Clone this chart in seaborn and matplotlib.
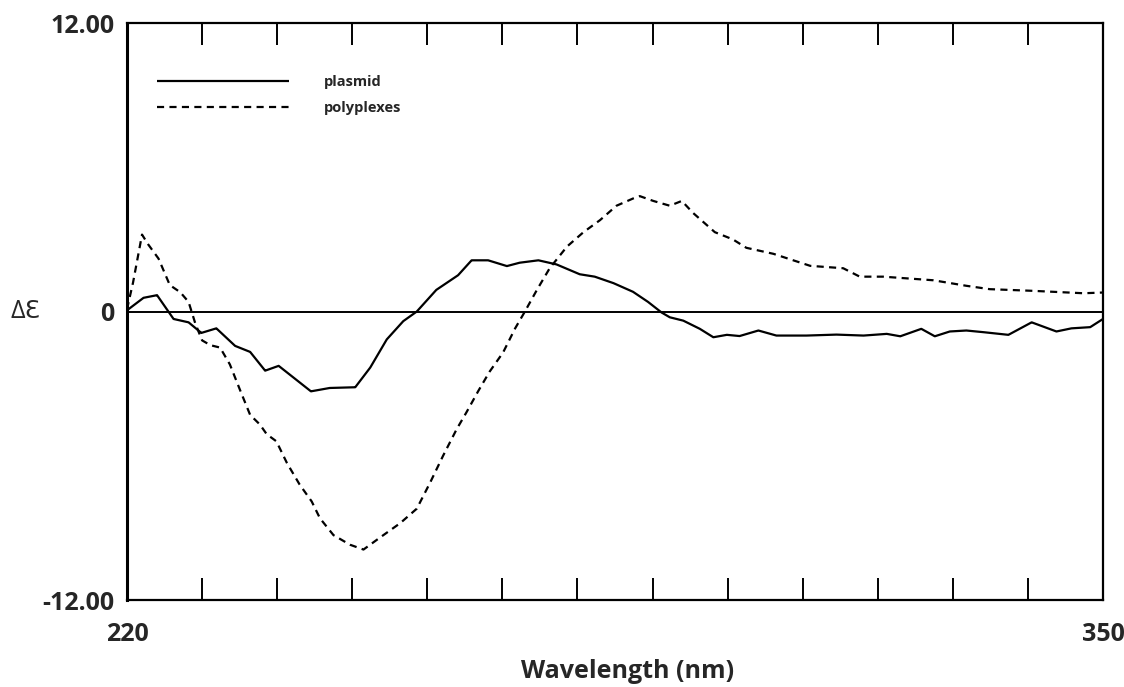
import pandas as pd
import seaborn as sns
import matplotlib.pyplot as plt
from matplotlib.ticker import MultipleLocator

# CD spectra, values
plasmid_wl = [220, 222.2, 224.0, 226.2, 228.2, 229.9, 231.9, 234.4, 236.4, 238.4,
              240.2, 244.5, 247.0, 250.4, 252.4, 254.6, 256.8, 258.6, 261.2, 264.1,
              265.9, 268.1, 270.6, 272.3, 274.8, 277.2, 280.3, 282.3, 284.8, 287.4,
              289.4, 291.2, 292.3, 294.1, 296.3, 298.1, 299.9, 301.6, 304.1, 306.5,
              310.5, 314.5, 318.1, 321.2, 323.0, 325.8, 327.6, 329.6, 331.8, 334.1,
              337.4, 340.5, 343.8, 345.8, 348.3, 350]
plasmid_de = [0.05, 0.57, 0.68, -0.31, -0.45, -0.89, -0.70, -1.43, -1.68, -2.46,
              -2.26, -3.32, -3.18, -3.15, -2.33, -1.16, -0.40, 0.0, 0.90, 1.51,
              2.13, 2.13, 1.89, 2.03, 2.13, 1.96, 1.55, 1.45, 1.18, 0.82,
              0.40, -0.04, -0.24, -0.38, -0.72, -1.07, -0.97, -1.02, -0.79, -1.00,
              -1.00, -0.96, -1.00, -0.93, -1.03, -0.72, -1.03, -0.83, -0.79, -0.86,
              -0.97, -0.45, -0.83, -0.70, -0.65, -0.31]

poly_wl = [220, 220.8, 222.0, 222.8, 224.2, 225.7, 227.1, 228.2, 229.1, 230.0,
           231.1, 232.4, 233.7, 235.1, 236.4, 237.7, 238.6, 239.9, 241.3, 243.0,
           244.6, 245.7, 247.5, 249.7, 251.5, 253.7, 256.4, 258.6, 260.4, 262.1,
           263.9, 265.2, 266.8, 268.3, 270.1, 271.7, 273.0, 274.6, 276.3, 278.6,
           280.8, 283.0, 285.2, 287.4, 288.3, 290.1, 292.3, 293.9, 295.4, 298.3,
           300.7, 302.5, 306.1, 311.0, 315.4, 317.6, 320.7, 327.4, 331.8, 334.9,
           340.7, 347.4, 350]
poly_de = [0.1, 1.2, 3.2, 2.8, 2.2, 1.1, 0.8, 0.4, -0.5, -1.2,
           -1.4, -1.5, -2.2, -3.3, -4.3, -4.7, -5.1, -5.4, -6.3, -7.2,
           -7.9, -8.6, -9.3, -9.7, -9.9, -9.4, -8.8, -8.2, -7.1, -6.0,
           -4.9, -4.2, -3.3, -2.5, -1.7, -0.7, 0.0, 0.9, 1.8, 2.7,
           3.3, 3.8, 4.4, 4.7, 4.8, 4.6, 4.4, 4.6, 4.1, 3.3,
           3.0, 2.65, 2.4, 1.9, 1.8, 1.45, 1.45, 1.3, 1.07, 0.93,
           0.86, 0.76, 0.79]

labels = ['plasmid', 'polyplexes']

df = pd.concat([
    pd.DataFrame({'wl': plasmid_wl, 'de': plasmid_de, 'sample': labels[0]}),
    pd.DataFrame({'wl': poly_wl, 'de': poly_de, 'sample': labels[1]}),
])

sns.set_style('white')
plt.rcParams['font.family'] = ['Open Sans', 'DejaVu Sans']

fig = plt.figure(figsize=(11.24, 6.87), dpi=100)
ax = fig.add_axes([0.113, 0.1266, 0.8683, 0.8399])

sns.lineplot(data=df, x='wl', y='de', hue='sample', style='sample',
             palette=['black', 'black'], dashes=[(1, 0), (3.2, 2.4)],
             linewidth=1.6, estimator=None, ax=ax)

ax.axhline(0, color='black', lw=1.4, zorder=1)

ax.set_xlim(220, 350)
ax.set_ylim(-12, 12)
for s in ax.spines.values():
    s.set_color('black')
    s.set_linewidth(1.6)
ax.spines['left'].set_linewidth(2.2)

ax.set_xticks([220, 350])
ax.set_xticklabels(['220', '350'], fontsize=18, fontweight='bold')
ax.xaxis.set_minor_locator(MultipleLocator(10))
ax.tick_params(axis='x', which='major', length=0, pad=16)
ax.tick_params(axis='x', which='minor', direction='in', length=16, width=1.4,
               top=True, bottom=True, color='black')

ax.set_yticks([-12, 0, 12])
ax.set_yticklabels(['-12.00', '0', '12.00'], fontsize=18, fontweight='bold')
ax.tick_params(axis='y', length=0, pad=9)

ax.set_xlabel('')
ax.set_ylabel('')
fig.text(628 / 1124, 1 - 672 / 687, 'Wavelength (nm)', fontsize=18,
         fontweight='bold', ha='center', va='center')
ax.text(-0.1035, 0.5, 'ΔƐ', transform=ax.transAxes, fontsize=18,
        ha='center', va='center')

leg = ax.legend(loc='upper left', bbox_to_anchor=(0.031, 0.910), frameon=False,
                handlelength=9.0, handletextpad=2.4, labelspacing=0.85,
                borderaxespad=0, borderpad=0,
                prop={'weight': 'bold', 'size': 10.5})
for line in leg.get_lines():
    line.set_linewidth(1.6)

plt.savefig('out.png', dpi=100)
plt.close()
